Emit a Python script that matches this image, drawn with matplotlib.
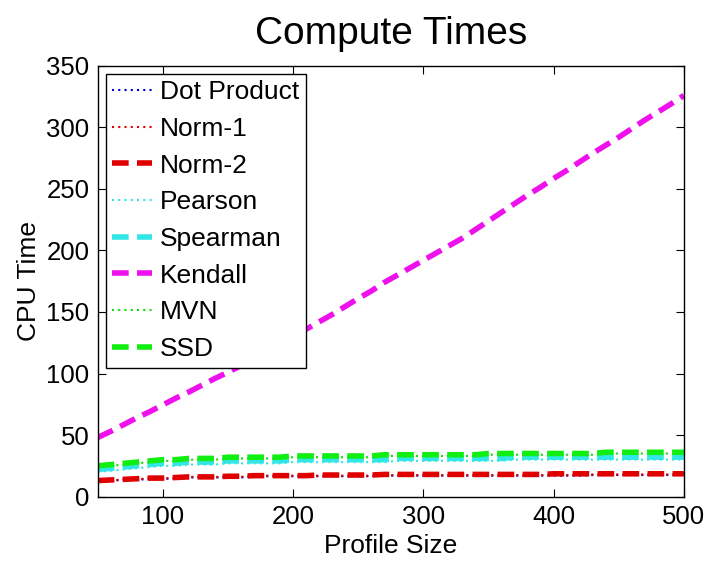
import numpy as np
import matplotlib.pyplot as plt

plt.rcParams['font.family'] = ['Liberation Sans', 'DejaVu Sans']

# profile sizes
profile_size = np.arange(50, 501, 10)

dot_product = [12.5, 13, 13.5, 13.5, 14.5, 14.5, 14.5, 15.5, 15.5, 15.5, 15.5, 15.5, 16.5, 16.5,
               16.5, 16.5, 16.5, 16.5, 16.5, 16.5, 16.5, 16.5, 17, 17, 17, 17, 17, 17, 17, 17,
               17, 17, 17, 17, 17, 17, 17, 17, 17.5, 17.5, 17.5, 17.5, 17.5, 17.5, 17.5, 17.5]
norm1 = [13, 13, 14, 14, 15, 15, 15, 16, 16, 16, 16, 16, 17, 17, 17, 17, 17, 17, 17, 17,
         17, 17, 17.5, 17.5, 17.5, 17.5, 17.5, 17.5, 17.5, 17.5, 17.5, 17.5, 17.5, 17.5, 17.5,
         17.5, 17.5, 17.5, 18, 18, 18, 18, 18, 18, 18, 18]
norm2 = [13, 13.5, 14, 14.5, 15, 15, 15.5, 16, 16, 16, 16.5, 16.5, 17, 17, 17, 17, 17, 17.5,
         17.5, 17.5, 17.5, 17.5, 18, 18, 18, 18, 18, 18, 18, 18, 18, 18, 18, 18, 18, 18.5,
         18.5, 18.5, 18.5, 18.5, 18.5, 18.5, 18.5, 18.5, 18.5, 18.5]
pearson = [20, 21, 22, 23, 24, 25, 25, 26, 26, 26, 27, 27, 27, 27, 27, 28, 28, 28, 28, 28,
           28, 28, 28, 29, 29, 29, 29, 29, 29, 29, 29, 29, 30, 30, 30, 30, 30, 30, 30, 30,
           30, 30, 30, 30, 30, 30]
spearman = [22, 23, 24, 25, 26, 27, 27, 28, 28, 28, 29, 29, 29, 29, 29, 30, 30, 30, 30, 30,
            30, 30, 30, 31, 31, 31, 31, 31, 31, 31, 31, 31, 32, 32, 32, 32, 32, 32, 32, 32,
            32, 32, 32, 32, 32, 32]
kendall = [48, 53, 58.5, 64, 69, 74.5, 80, 85, 90.5, 96, 101, 106.5, 112, 118, 124, 130,
           136, 142, 148, 154.5, 161, 167, 174, 180, 186, 192, 198, 204, 210, 217, 224,
           231, 238, 245, 251.5, 258.5, 265, 272, 279, 285.5, 292, 299, 306, 312.5, 319, 326]
mvn = [24, 25, 26, 27, 28, 29, 29, 30, 30, 30, 31, 31, 31, 31, 31, 32, 32, 32, 32, 32,
       32, 32, 33, 33, 33, 33, 33, 33, 33, 33, 34, 34, 34, 34, 34, 34, 34, 34, 34, 35,
       35, 35, 35, 35, 35, 35]
ssd = [25, 26, 27, 28, 29, 30, 30, 31, 31, 31, 32, 32, 32, 32, 32, 33, 33, 33, 33, 33,
       33, 33, 34, 34, 34, 34, 34, 34, 34, 34, 35, 35, 35, 35, 35, 35, 35, 35, 35, 36,
       36, 36, 36, 36, 36, 36]

fig = plt.figure(figsize=(7.08, 5.63), dpi=100)
ax = fig.add_axes([0.138, 0.118, 0.828, 0.765])

dot = (1, 2)
dash = (3, 1.5)
ax.plot(profile_size, dot_product, color='#0000cc', lw=1.5, dashes=dot, label='Dot Product')
ax.plot(profile_size, norm1, color='#e00000', lw=1.5, dashes=dot, label='Norm-1')
ax.plot(profile_size, norm2, color='#e00000', lw=4, dashes=dash, label='Norm-2')
ax.plot(profile_size, pearson, color='#33e6e6', lw=1.5, dashes=dot, label='Pearson')
ax.plot(profile_size, spearman, color='#33e6e6', lw=4, dashes=dash, label='Spearman')
ax.plot(profile_size, kendall, color='#ee11ee', lw=4, dashes=dash, label='Kendall')
ax.plot(profile_size, mvn, color='#11dd11', lw=1.5, dashes=dot, label='MVN')
ax.plot(profile_size, ssd, color='#11ee11', lw=4, dashes=dash, label='SSD')

ax.set_xlim(50, 500)
ax.set_ylim(0, 350)
ax.set_xticks([100, 200, 300, 400, 500])
ax.set_yticks(np.arange(0, 351, 50))
ax.tick_params(direction='in', length=6, labelsize=18.5, top=True, right=True, pad=6)
for s in ax.spines.values():
    s.set_linewidth(1.0)

ax.set_xlabel('Profile Size', fontsize=19, labelpad=4)
ax.set_ylabel('CPU Time', fontsize=19, labelpad=4)
ax.set_title('Compute Times', fontsize=28, pad=16)

leg = ax.legend(loc='upper left', fontsize=19, handlelength=1.5, handletextpad=0.3,
                labelspacing=0.48, borderaxespad=0.3, borderpad=0.25,
                fancybox=False, framealpha=1)
leg.get_frame().set_edgecolor('black')
leg.get_frame().set_linewidth(1.0)

fig.savefig('out.png', dpi=100)
